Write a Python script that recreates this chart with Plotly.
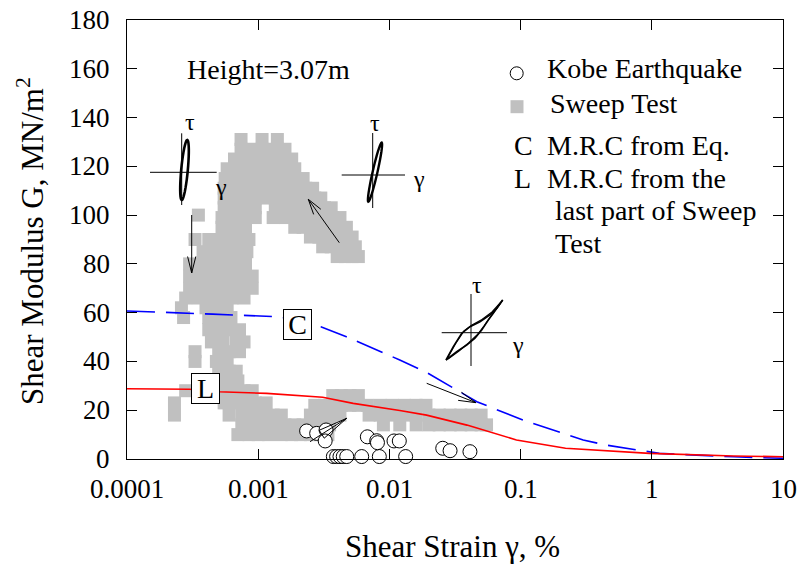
import math
import plotly.graph_objects as go

# ---------------- data ----------------
sweep_row_y = [131, 127, 123, 119, 115, 111, 107, 103, 100, 99, 95, 91, 90, 87, 85, 83,
               80, 75, 70, 66, 62, 58, 53, 48, 44, 40, 36, 32, 28, 26, 23, 22, 18, 14, 10]
sweep_row_x = [
    [0.00074, 0.00107, 0.0014],
    [0.00074, 0.00088, 0.00107, 0.00125, 0.0014, 0.0016],
    [0.00066, 0.00078, 0.00092, 0.0011, 0.0013, 0.0015, 0.0018],
    [0.00058, 0.0007, 0.00084, 0.001, 0.0012, 0.0014, 0.0017, 0.0019],
    [0.00056, 0.00067, 0.0008, 0.00095, 0.00115, 0.00135, 0.0016, 0.0019, 0.0022],
    [0.00055, 0.00066, 0.0008, 0.00095, 0.00115, 0.00135, 0.0016, 0.0019, 0.0023, 0.0026],
    [0.00055, 0.00066, 0.0008, 0.00095, 0.00115, 0.00135, 0.0016, 0.0019, 0.0023, 0.0027, 0.003],
    [0.00055, 0.00068, 0.0008, 0.00095, 0.00135, 0.0016, 0.0019, 0.0023, 0.0027, 0.0032, 0.0036],
    [0.00035],
    [0.00053, 0.00066, 0.0008, 0.00095, 0.0013, 0.0016, 0.0019, 0.0023, 0.0027, 0.0032, 0.0037, 0.0042],
    [0.00053, 0.00066, 0.0008, 0.0019, 0.0022, 0.0026, 0.003, 0.0035, 0.0041, 0.0047],
    [0.0025, 0.0029, 0.0034, 0.004, 0.0046, 0.0052],
    [0.00033, 0.00042, 0.0005, 0.0006, 0.00072, 0.00085],
    [0.0031, 0.0036, 0.0042, 0.0048, 0.0055],
    [0.00038, 0.00047, 0.00057, 0.00068, 0.00082],
    [0.004, 0.0046, 0.0052, 0.0058],
    [0.0003, 0.00037, 0.00045, 0.00055, 0.00066, 0.0008],
    [0.0003, 0.00036, 0.00044, 0.00053, 0.00064, 0.00077, 0.0009],
    [0.0003, 0.00036, 0.00044, 0.00053, 0.00064, 0.00077, 0.0009],
    [0.00028, 0.00035, 0.00043, 0.00052, 0.00063, 0.00078],
    [0.00026, 0.0004, 0.00048, 0.00058],
    [0.00027, 0.00042, 0.0005, 0.00062],
    [0.00042, 0.0005, 0.0006, 0.00072],
    [0.00044, 0.00054, 0.00068, 0.00078],
    [0.00033, 0.0005, 0.0006, 0.00072],
    [0.00033, 0.00048, 0.00058],
    [0.0005, 0.0006, 0.00068],
    [0.0005, 0.0006, 0.0007],
    [0.00028, 0.00055, 0.00065, 0.00078, 0.0009],
    [0.0037, 0.0043, 0.005, 0.0058],
    [0.00023, 0.00055, 0.00066, 0.0008, 0.00095, 0.00115],
    [0.0027, 0.0032, 0.0037, 0.0043, 0.005, 0.0058, 0.0068, 0.0085, 0.0105, 0.013, 0.016, 0.019],
    [0.00023, 0.0006, 0.00075, 0.0009, 0.0011, 0.0013, 0.0015, 0.0025, 0.003, 0.0036, 0.0042,
     0.007, 0.0085, 0.0105, 0.013, 0.016, 0.02, 0.024, 0.029, 0.035, 0.042, 0.05],
    [0.00075, 0.0009, 0.0011, 0.0013, 0.0016, 0.0019, 0.0022, 0.0026, 0.003, 0.0035,
     0.009, 0.012, 0.016, 0.02, 0.024, 0.029, 0.035, 0.042, 0.05, 0.055],
    [0.0007, 0.00085, 0.001, 0.0012, 0.0015, 0.0018, 0.0021, 0.0025, 0.0029, 0.0034],
]

kobe_x = [0.00234, 0.00279, 0.00329, 0.00324, 0.00374, 0.00396, 0.0042, 0.00445, 0.00473,
          0.00615, 0.00838, 0.0133, 0.00679, 0.008, 0.00811, 0.01084, 0.0119, 0.0255, 0.029, 0.0411]
kobe_y = [11.5, 10.5, 11.9, 7.4, 1, 1, 1, 1, 1, 1, 1, 1, 9.1, 7.5, 6.7, 7.4, 7.4, 4.4, 3.4, 3.0]

mrc_eq_x = [0.0001, 0.00018, 0.00045, 0.00146, 0.003, 0.0047, 0.012, 0.0193, 0.0325, 0.0464,
            0.104, 0.19, 0.30, 0.45, 1.14, 4.2, 10]
mrc_eq_y = [60.7, 60.1, 59.4, 58.3, 54.2, 50.1, 40.6, 35.4, 28.3, 23.5, 16.0, 11.2, 7.8, 5.7,
            2.3, 0.9, 0.3]

mrc_sweep_x = [0.0001, 0.0003, 0.0005, 0.00116, 0.0031, 0.0053, 0.012, 0.0192, 0.039, 0.093,
               0.22, 0.96, 4.2, 10]
mrc_sweep_y = [28.8, 28.6, 27.6, 26.9, 25.3, 22.8, 19.9, 18.0, 13.9, 7.8, 4.4, 2.3, 1.2, 0.95]

x_tickvals = [0.0001, 0.001, 0.01, 0.1, 1, 10]
x_ticktext = ["0.0001", "0.001", "0.01", "0.1", "1", "10"]
y_tickvals = [0, 20, 40, 60, 80, 100, 120, 140, 160, 180]

# ---------------- figure ----------------
sweep_x, sweep_y = [], []
for yv, xs in zip(sweep_row_y, sweep_row_x):
    for xv in xs:
        sweep_x.append(xv)
        sweep_y.append(yv)

FONT = "Liberation Serif"
W, H = 801, 567
PL, PR, PT, PB = 127, 783, 20, 459
XMIN, XMAX, YMIN, YMAX = -4, 1, 0, 180


def px(x):
    return (x - PL) / (PR - PL)


def py(y):
    return (PB - y) / (PB - PT)


fig = go.Figure()
fig.add_trace(go.Scatter(x=sweep_x, y=sweep_y, mode="markers", name="Sweep Test",
                         marker=dict(symbol="square", size=13, color="#c0c0c0", line=dict(width=0))))
fig.add_trace(go.Scatter(x=mrc_eq_x, y=mrc_eq_y, mode="lines", name="C",
                         line=dict(color="#0000ff", width=1.6, dash="28px,11px")))
fig.add_trace(go.Scatter(x=mrc_sweep_x, y=mrc_sweep_y, mode="lines", name="L",
                         line=dict(color="#ff0000", width=1.6)))
fig.add_trace(go.Scatter(x=kobe_x, y=kobe_y, mode="markers", name="Kobe Earthquake", cliponaxis=False,
                         marker=dict(symbol="circle", size=14, color="white",
                                     line=dict(color="black", width=1))))

shapes = []


def line(x0, y0, x1, y1, w=1, color="black"):
    shapes.append(dict(type="line", xref="paper", yref="paper", x0=px(x0), y0=py(y0),
                       x1=px(x1), y1=py(y1), line=dict(color=color, width=w)))


def path(points, w=1, closed=False):
    s = "M " + " L ".join(f"{px(a):.5f},{py(b):.5f}" for a, b in points)
    if closed:
        s += " Z"
    shapes.append(dict(type="path", xref="paper", yref="paper", path=s,
                       line=dict(color="black", width=w)))


def ellipse(cx, cy, x_top, y_top, minor, w):
    dx, dy = x_top - cx, y_top - cy
    L = math.hypot(dx, dy)
    ux, uy = dx / L, dy / L
    vx, vy = -uy, ux
    pts = []
    for i in range(40):
        t = 2 * math.pi * i / 40
        a, b = L * math.cos(t), minor * math.sin(t)
        pts.append((cx + a * ux + b * vx, cy + a * uy + b * vy))
    path(pts, w, closed=True)


def arrow(tx, ty, hx, hy, hl=15, ang=16, w=1, closed=False):
    line(tx, ty, hx, hy, w)
    a = math.atan2(ty - hy, tx - hx)
    pts = []
    for s in (1, -1):
        b = a + s * math.radians(ang)
        pts.append((hx + hl * math.cos(b), hy + hl * math.sin(b)))
    path([pts[0], (hx, hy), pts[1]], w, closed=closed)


def text(x, y, s, size=28, xanchor="left", angle=0):
    fig.add_annotation(xref="paper", yref="paper", x=px(x), y=py(y), text=s,
                       showarrow=False, xanchor=xanchor, yanchor="middle", textangle=angle,
                       font=dict(family=FONT, size=size, color="black"))


# tick labels (placed with a gap from the frame, like the reference)
for v in y_tickvals:
    ypix = PB - (v - YMIN) / (YMAX - YMIN) * (PB - PT)
    text(112, ypix, str(v), 27, "right")
for v, t in zip(x_tickvals, x_ticktext):
    xpix = PL + (math.log10(v) - XMIN) / (XMAX - XMIN) * (PR - PL)
    text(xpix, 489, t, 27, "center")

# inset 1 (upper left)
line(150, 172.3, 216.7, 172.3)
line(181.7, 133.3, 181.7, 205)
ellipse(184.5, 170, 187.3, 140, 3.3, 2.6)
text(190, 122, "τ", 24, "center")
text(221, 187, "γ", 24, "center")
# inset 2 (upper middle)
line(341.7, 175, 405, 175)
line(372.7, 133, 372.7, 208)
ellipse(375, 172.2, 381.7, 142.7, 2.4, 2.4)
text(375, 123, "τ", 24, "center")
text(419, 179, "γ", 24, "center")
# inset 3 (lower right hysteresis)
line(441.7, 332.7, 507, 332.7)
line(471, 294, 471, 366)
up = [(446, 360), (453.3, 346.7), (461.7, 333.3), (470, 326.7), (480, 321.7), (490, 315),
      (496.7, 308.3), (502.7, 300)]
lo = [(446, 360), (456.7, 351.7), (466.7, 345), (475, 338.3), (481.7, 330), (488.3, 320),
      (493.3, 313.3), (502.7, 300)]
path(up, 1.6)
path(lo, 1.6)
path([(447.5, 358), (456, 343), (464, 331), (472, 325), (482, 319.5), (492, 312), (501, 302)], 1.2)
path([(448, 359), (459, 351), (468.5, 343), (477, 335), (484, 326), (491, 316), (500, 304)], 1.2)
text(477, 285, "τ", 24, "center")
text(518, 345, "γ", 24, "center")

# arrows
arrow(191.7, 215, 191.7, 273, hl=17, ang=14)
arrow(339.3, 242.7, 308.3, 199.3, hl=16, ang=16)
arrow(310, 441.7, 346.7, 418.3, hl=30, ang=9, closed=True)
arrow(426.7, 383.3, 476, 402.7, hl=18, ang=14)

# legend
shapes.append(dict(type="circle", xref="paper", yref="paper", x0=px(510.2), x1=px(523.2),
                   y0=py(79.8), y1=py(66.8), line=dict(color="black", width=1), fillcolor="white"))
shapes.append(dict(type="rect", xref="paper", yref="paper", x0=px(510.5), x1=px(523.5),
                   y0=py(113.2), y1=py(100.2), line=dict(width=0), fillcolor="#c0c0c0"))
text(545, 68, "Kobe Earthquake")
text(548, 103, "Sweep Test")
text(512, 145, "C")
text(545, 145, "M.R.C from Eq.")
text(512, 178, "L")
text(545, 178, "M.R.C from the")
text(553, 210, "last part of Sweep")
text(553, 243, "Test")
text(185, 69, "Height=3.07m")

# C / L boxed labels
for lbl, bx, by in (("C", 297.5, 324.5), ("L", 205.5, 388.5)):
    fig.add_annotation(xref="paper", yref="paper", x=px(bx), y=py(by), text=lbl,
                       showarrow=False, xanchor="center", yanchor="middle",
                       width=27, height=29, borderpad=0, borderwidth=1,
                       bordercolor="black", bgcolor="white",
                       font=dict(family=FONT, size=28, color="black"))

# axis titles
text(30, 241, "Shear Modulus G, MN/m<sup>2</sup>", 31, "center", -90)
text(452, 546, "Shear Strain γ, %", 31, "center")

fig.update_layout(
    width=W, height=H,
    margin=dict(l=PL, r=W - PR, t=PT, b=H - PB),
    paper_bgcolor="white", plot_bgcolor="white",
    showlegend=False,
    shapes=shapes,
    font=dict(family=FONT, size=26, color="black"),
    xaxis=dict(type="log", range=[XMIN, XMAX], tickvals=x_tickvals, showticklabels=False,
               ticks="inside", ticklen=10, tickcolor="black", showline=True, linecolor="black",
               linewidth=1, mirror="ticks", showgrid=False, zeroline=False),
    yaxis=dict(range=[YMIN, YMAX], tickvals=y_tickvals, showticklabels=False, ticks="inside",
               ticklen=10, tickcolor="black", showline=True, linecolor="black", linewidth=1,
               mirror="ticks", showgrid=False, zeroline=False),
)

fig.write_html("out.html")
